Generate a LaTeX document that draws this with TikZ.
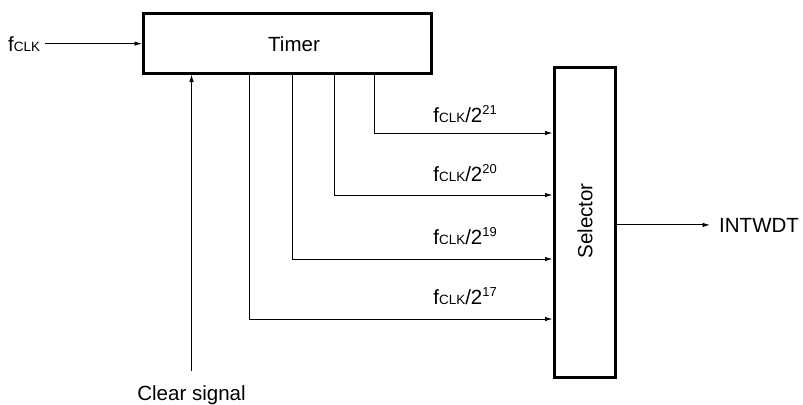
\documentclass[tikz,border=0pt]{standalone}
\usepackage{fontspec}
\setmainfont{Liberation Sans}
\usetikzlibrary{arrows.meta}
\newcommand\fclk{f{\fontsize{13.5}{14}\selectfont CLK}}
\newcommand\fsup[1]{\raisebox{8bp}{\fontsize{13}{14}\selectfont #1}}
\begin{document}
\begin{tikzpicture}[x=1bp,y=-1bp,
  box/.style={draw,line width=3bp,inner sep=0pt},
  txt/.style={inner sep=0pt,font=\fontsize{20.6}{24}\selectfont},
  arr/.style={line width=0.9bp,-{Latex[length=7.5bp,width=4.5bp]}}]
\useasboundingbox (0,0) rectangle (803,404);
\node[box,minimum width=287.5bp,minimum height=59.5bp] (timer) at (287.25,43.25) {};
\node[txt,anchor=base] (timertxt) at (294,51) {Timer};
\node[box,minimum width=61bp,minimum height=310bp] (sel) at (584.5,222) {};
\node[txt] (seltxt) at (585,221) {\rotatebox{90}{Selector}};
% input clock
\node[txt,anchor=base west] (fin) at (8,51) {\fclk};
\draw[arr] ([xshift=5bp]fin.east) -- (fin.east -| timer.west);
% clear signal
\node[txt,anchor=base] (clear) at (191.5,400) {Clear signal};
\draw[arr] ([yshift=14bp]clear.north) -- (clear.north |- timer.south);
% selector inputs
\coordinate (s21) at (sel.west |- 0,133);
\coordinate (s20) at (sel.west |- 0,195);
\coordinate (s19) at (sel.west |- 0,259);
\coordinate (s17) at (sel.west |- 0,319);
\draw[arr] (timer.south -| 374,0) |- (s21);
\draw[arr] (timer.south -| 334,0) |- (s20);
\draw[arr] (timer.south -| 292,0) |- (s19);
\draw[arr] (timer.south -| 249,0) |- (s17);
\node[txt,anchor=base east] (l21) at (497,122) {\fclk/2\fsup{21}};
\node[txt,anchor=base east] (l20) at (497,181) {\fclk/2\fsup{20}};
\node[txt,anchor=base east] (l19) at (497,244) {\fclk/2\fsup{19}};
\node[txt,anchor=base east] (l17) at (497,304) {\fclk/2\fsup{17}};
% output
\node[txt,anchor=base west] (intwdt) at (719,232) {INTWDT};
\draw[arr] (sel.east |- intwdt.west) -- ([xshift=-9bp]intwdt.west);
\end{tikzpicture}
\end{document}
